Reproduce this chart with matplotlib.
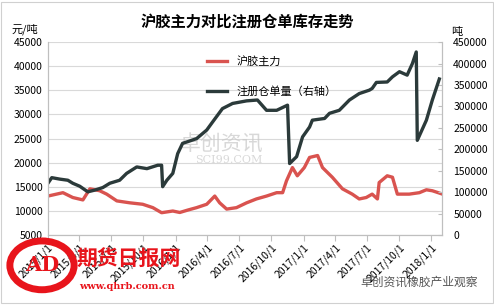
import numpy as np
import pandas as pd
import matplotlib
matplotlib.use("Agg")
import matplotlib.pyplot as plt
import matplotlib.dates as mdates
from matplotlib.patches import Ellipse, Rectangle

plt.rcParams['font.family'] = ['Noto Sans CJK SC', 'DejaVu Sans']

# 沪胶主力 (元/吨)
price_dates = ["2015-01-01", "2015-02-13", "2015-03-13", "2015-04-11", "2015-05-01",
               "2015-05-29", "2015-06-18", "2015-07-17", "2015-08-23", "2015-09-29",
               "2015-10-28", "2015-11-22", "2015-12-24", "2016-01-13", "2016-02-05",
               "2016-03-01", "2016-03-30", "2016-04-22", "2016-05-06", "2016-05-26",
               "2016-06-23", "2016-07-22", "2016-08-19", "2016-09-17", "2016-10-16",
               "2016-11-02", "2016-11-13", "2016-11-30", "2016-12-14", "2017-01-03",
               "2017-01-18", "2017-02-10", "2017-02-24", "2017-03-24", "2017-04-22",
               "2017-05-20", "2017-06-09", "2017-06-29", "2017-07-16", "2017-07-31",
               "2017-08-05", "2017-08-28", "2017-09-12", "2017-09-26", "2017-10-30",
               "2017-11-28", "2017-12-18", "2018-01-04", "2018-01-29"]
price = [13100, 13800, 12800, 12300, 14600,
         14200, 13500, 12100, 11700, 11400,
         10700, 9650, 10000, 9700, 10200,
         10700, 11400, 13100, 11700, 10400,
         10700, 11700, 12500, 13100, 13800,
         13800, 16250, 19000, 17300, 19000,
         21100, 21500, 19000, 17000, 14600,
         13500, 12500, 12800, 13500, 12500,
         15900, 17300, 17000, 13500, 13500,
         13800, 14400, 14200, 13600]

# 注册仓单量 (吨, 右轴)
stock_dates = ["2015-01-01", "2015-01-12", "2015-02-04", "2015-02-27", "2015-03-13",
               "2015-04-02", "2015-04-25", "2015-05-15", "2015-06-07", "2015-06-27",
               "2015-07-25", "2015-08-14", "2015-09-12", "2015-10-11", "2015-11-11",
               "2015-11-22", "2015-11-25", "2015-12-07", "2015-12-24", "2016-01-07",
               "2016-01-21", "2016-02-05", "2016-03-01", "2016-03-30", "2016-04-16",
               "2016-05-14", "2016-06-12", "2016-07-22", "2016-08-22", "2016-09-17",
               "2016-10-16", "2016-11-16", "2016-11-22", "2016-12-12", "2016-12-29",
               "2017-01-18", "2017-01-26", "2017-03-02", "2017-03-16", "2017-04-13",
               "2017-05-12", "2017-06-09", "2017-07-08", "2017-07-16", "2017-07-28",
               "2017-08-28", "2017-09-12", "2017-10-02", "2017-10-24", "2017-11-08",
               "2017-11-19", "2017-11-22", "2017-12-18", "2018-01-04", "2018-01-24"]
stock = [121000, 134000, 130600, 128000, 121000,
         114000, 101000, 105000, 111000, 121000,
         128000, 144000, 159000, 155000, 163000,
         163000, 113000, 128000, 144000, 190000,
         214000, 218000, 225000, 245000, 264000,
         295000, 307000, 313000, 315000, 291000,
         291000, 303000, 167000, 183000, 229000,
         252000, 268000, 272000, 284000, 291000,
         315000, 330000, 338000, 342000, 356000,
         357000, 369000, 381000, 373000, 400000,
         427000, 221000, 268000, 315000, 364000]

tick_dates = pd.date_range("2015-01-01", "2018-01-01", freq="3MS")

fig = plt.figure(figsize=(4.94, 3.05), dpi=100)
ax = fig.add_axes([0.097, 0.229, 0.798, 0.633])
ax2 = ax.twinx()

red = "#d9534f"
dark = "#2b3a3a"
ln1, = ax.plot(pd.to_datetime(price_dates), price, color=red, lw=2.4, label="沪胶主力")
ln2, = ax2.plot(pd.to_datetime(stock_dates), stock, color=dark, lw=2.4, label="注册仓单量（右轴）")

ax.set_ylim(5000, 45000)
ax.set_yticks(np.arange(5000, 45001, 5000))
ax2.set_ylim(0, 450000)
ax2.set_yticks(np.arange(0, 450001, 50000))
ax.set_xlim(pd.Timestamp("2015-01-01"), pd.Timestamp("2018-02-01"))
ax.set_xticks(tick_dates)
ax.xaxis.set_major_formatter(mdates.DateFormatter("%Y/%-m/%-d"))
ax.grid(axis="y", color="#d9d9d9", lw=0.8)
ax.set_axisbelow(True)

for a in (ax, ax2):
    for s in a.spines.values():
        s.set_color("#bfbfbf")
    a.spines["top"].set_visible(False)
ax.tick_params(axis="y", length=0, labelsize=7.5, pad=4)
ax2.tick_params(axis="y", direction="in", length=3, color="#bfbfbf", labelsize=7.5, pad=8)
ax.tick_params(axis="x", length=4, color="#bfbfbf", labelsize=7.5, pad=1)
plt.setp(ax.get_xticklabels(), rotation=45, ha="right", rotation_mode="anchor")

ax.legend(handles=[ln1, ln2], loc="upper left", bbox_to_anchor=(0.385, 0.97),
          frameon=False, fontsize=8, handlelength=1.8, labelspacing=1.75, borderaxespad=0.3)

fig.text(0.5, 0.93, "沪胶主力对比注册仓单库存走势", ha="center", va="center",
         fontsize=11, fontweight="bold")
fig.text(0.05, 0.905, "元/吨", ha="center", va="center", fontsize=8)
fig.text(0.925, 0.895, "吨", ha="center", va="center", fontsize=8)

# watermarks
ax.text(0.44, 0.47, "卓创资讯", transform=ax.transAxes, fontsize=15, color="#c8c8c8",
        ha="center", va="center", alpha=0.7)
ax.text(0.46, 0.39, "SCI99.COM", transform=ax.transAxes, fontsize=8, color="#c8c8c8",
        ha="center", va="center", alpha=0.7, family="DejaVu Serif")
fig.patches.append(Ellipse((0.085, 0.13), 0.13, 0.16, transform=fig.transFigure,
                           facecolor="none", edgecolor="#e8141b", lw=5))
fig.text(0.085, 0.13, "AD", ha="center", va="center", fontsize=15, color="#e8141b",
         fontweight="bold", family="DejaVu Serif")
fig.text(0.155, 0.15, "期货日报网", ha="left", va="center", fontsize=15, color="#e8141b",
         fontweight="bold")
fig.text(0.16, 0.06, "www.qhrb.com.cn", ha="left", va="center", fontsize=7, color="#e8141b",
         fontweight="bold", family="DejaVu Serif")
fig.text(0.73, 0.075, "卓创资讯橡胶产业观察", ha="left", va="center", fontsize=8.5,
         color="#555555")
fig.patches.append(Rectangle((0.003, 0.005), 0.994, 0.99, transform=fig.transFigure,
                             facecolor="none", edgecolor="#d0d0d0", lw=0.8))

fig.savefig("out.png", dpi=100)
